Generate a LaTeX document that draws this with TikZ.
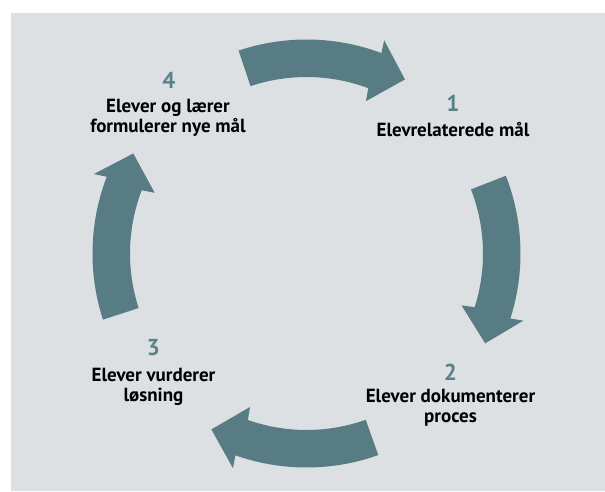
\documentclass[tikz,border=0pt]{standalone}
\usepackage{fontspec}
\newfontfamily\lblfont{PT Sans}
\definecolor{bggray}{HTML}{DDE0E3}
\definecolor{teal}{HTML}{587C84}
\definecolor{numteal}{HTML}{5B8188}
\begin{document}
\begin{tikzpicture}[x=1pt,y=1pt,
  lbl/.style={font=\lblfont\bfseries\fontsize{19}{20.5}\selectfont, text=black, inner sep=0pt, anchor=base},
  num/.style={font=\lblfont\bfseries\fontsize{23}{23}\selectfont, text=numteal, inner sep=0pt, anchor=base},
  cyclearrow/.style={fill=teal}]
\useasboundingbox (0,0) rectangle (605,491);
\fill[bggray] (11,0) rectangle (605,478);
\coordinate (C) at (306.5,237.5);
% arrows: tail angle t, neck t-39, tip t-48
\foreach \t in {108.5,21.3,-70.4,198} {
  \pgfmathsetmacro{\n}{\t-39}
  \pgfmathsetmacro{\p}{\t-48}
  \fill[cyclearrow,shift={(C)}] (\t:214pt) arc[start angle=\t, end angle=\n, radius=214pt]
    -- (\n+0.5:227pt) -- (\p:200pt) -- (\n-0.8:163.5pt) -- (\n:176.5pt)
    arc[start angle=\n, end angle=\t, radius=176.5pt] -- cycle;
}
% block 1
\node[num] (n1) at (453,379) {1};
\node[lbl] (t1) at (453,355) {Elevrelaterede mål};
% block 2
\node[num] (n2) at (450.5,111) {2};
\node[lbl] (t2a) at (450.5,89) {Elever dokumenterer};
\node[lbl] (t2b) at (450.5,68.5) {proces};
% block 3
\node[num] (n3) at (153.5,136) {3};
\node[lbl] (t3a) at (153.5,109.5) {Elever vurderer};
\node[lbl] (t3b) at (153.5,90) {løsning};
% block 4
\node[num] (n4) at (169,402) {4};
\node[lbl] (t4a) at (168,378) {Elever og lærer};
\node[lbl] (t4b) at (168,358) {formulerer nye mål};
\end{tikzpicture}
\end{document}
